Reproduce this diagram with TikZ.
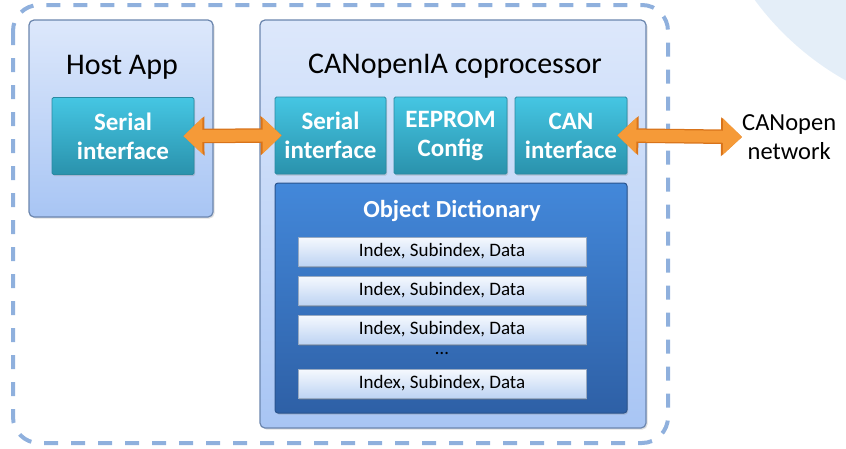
\documentclass[tikz,border=0pt]{standalone}
\usepackage{fontspec}
\setmainfont{Carlito}
\usetikzlibrary{arrows.meta,shadows}
\definecolor{bgcirc}{HTML}{E4EEF8}
\definecolor{dashblue}{HTML}{8FB0DD}
\definecolor{paneltop}{HTML}{DDE8FB}
\definecolor{panelbot}{HTML}{A8C5F4}
\definecolor{panelline}{HTML}{6B86AE}
\definecolor{iftop}{HTML}{45C6E3}
\definecolor{ifbot}{HTML}{2A92AC}
\definecolor{ifline}{HTML}{2A8AA2}
\definecolor{odtop}{HTML}{4388DA}
\definecolor{odbot}{HTML}{2E60A6}
\definecolor{odline}{HTML}{2A548E}
\definecolor{rowtop}{HTML}{F6F9FE}
\definecolor{rowbot}{HTML}{BED4F3}
\definecolor{orangefill}{HTML}{F59A38}
\definecolor{orangeedge}{HTML}{D8731A}

\begin{document}

\begin{tikzpicture}[x=1pt,y=-1pt,
    panel/.style={draw=panelline,line width=1.2pt,rounded corners=5pt,
      top color=paneltop,bottom color=panelbot,
      drop shadow={opacity=.25,shadow xshift=1.5pt,shadow yshift=-1.5pt}},
    ptitle/.style={font=\fontsize{30}{34}\selectfont},
    iface/.style={draw=ifline,line width=.8pt,rounded corners=1.5pt,
      top color=iftop,bottom color=ifbot,text=white,align=center,
      font=\fontsize{25}{29}\selectfont\bfseries,minimum height=77pt,
      inner sep=0pt,drop shadow={opacity=.3,shadow xshift=1pt,shadow yshift=-1.5pt}},
    od/.style={draw=odline,line width=1pt,rounded corners=3pt,
      top color=odtop,bottom color=odbot,
      drop shadow={opacity=.3,shadow xshift=1pt,shadow yshift=-1.5pt}},
    row/.style={draw=rowbot!80!black,line width=.4pt,top color=rowtop,
      bottom color=rowbot,minimum width=288pt,minimum height=29pt,inner sep=0pt,
      font=\fontsize{19}{21}\selectfont,
      drop shadow={opacity=.35,shadow xshift=.5pt,shadow yshift=-1.5pt}},
    bigarrow/.style={orangefill,line width=12pt,
      {Triangle[width=35pt,length=19pt]}-{Triangle[width=35pt,length=19pt]},
      preaction={draw=orangeedge,line width=14.5pt,
        {Triangle[width=38pt,length=21pt]}-{Triangle[width=38pt,length=21pt]}}},
    outline/.style={draw=dashblue,line width=4pt,rounded corners=26pt,
      dash pattern=on 14pt off 13pt}]
\useasboundingbox (0,0) rectangle (846,448);
\fill[bgcirc] (986,-170) circle (287pt);
\draw[outline] (13,5) rectangle (668,443);
% host side
\node[panel,minimum width=184pt,minimum height=197pt] (host) at (121,118.5) {};
\node[ptitle] (hosttitle) at (122,67) {Host App};
\node[iface,minimum width=142pt] (hostser) at (123,136) {Serial\\interface};
% coprocessor
\node[panel,minimum width=386pt,minimum height=408pt] (cop) at (453,224) {};
\node[ptitle] (coptitle) at (455,66) {CANopenIA coprocessor};
\node[iface,minimum width=111pt] (coser) at (330.5,135.5) {Serial\\interface};
\node[iface,minimum width=113pt] (eeprom) at (450.5,135.5) {EEPROM\\Config};
\node[iface,minimum width=112pt] (canif) at (571,135.5) {CAN\\interface};
\node[od,minimum width=352pt,minimum height=230pt] (od) at (451,298) {};
\node[text=white,font=\fontsize{24.5}{27}\selectfont\bfseries] (odtitle) at (452,211)
  {Object Dictionary};
\foreach \n/\y in {r1/251.5,r2/290.5,r3/329.5,r4/383.5}
  \node[row] (\n) at (442,\y) {Index, Subindex, Data};
\node[font=\fontsize{19}{21}\selectfont] (dots) at (442,353) {\dots};
% network
\node[align=center,inner sep=0pt,font=\fontsize{24.5}{29}\selectfont,anchor=west]
  (net) at (742,137) {CANopen\\network};
\draw[bigarrow,shorten <=-11pt,shorten >=-7pt] (hostser.east) -- (coser.west);
\draw[bigarrow,shorten <=-10pt,shorten >=0pt] (canif.east) -- (net.west);
\end{tikzpicture}

\end{document}
